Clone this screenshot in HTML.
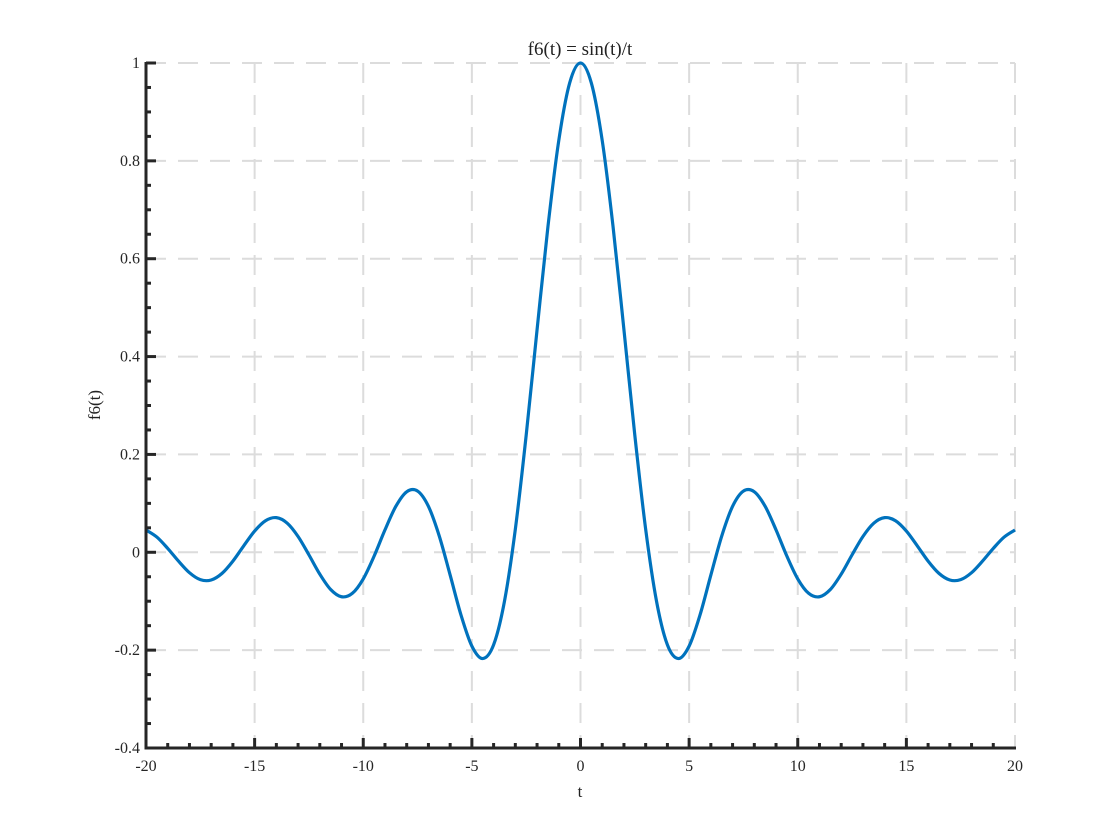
<!DOCTYPE html>
<html><head><meta charset="utf-8"><style>
html,body{margin:0;padding:0;background:#fff;}
svg{display:block;font-family:"Liberation Serif",serif;}
</style></head><body>
<svg id="chart" width="1120" height="840" viewBox="0 0 1120 840">
<g id="grid"></g>
<g id="series"></g>
<g id="axes"></g>
<text x="580" y="55" text-anchor="middle" font-size="19" fill="#222">f6(t) = sin(t)/t</text>
<text x="580" y="797" text-anchor="middle" font-size="17" fill="#222">t</text>
<text transform="translate(100,405) rotate(-90)" text-anchor="middle" font-size="17" fill="#222">f6(t)</text>
</svg>
<script>
const xTicks = [-20,-15,-10,-5,0,5,10,15,20];
const yTicks = [-0.4,-0.2,0,0.2,0.4,0.6,0.8,1];
const yTickLabels = ["-0.4","-0.2","0","0.2","0.4","0.6","0.8","1"];
const tValues = [];
for (let i = -40; i <= 40; i++) tValues.push(i/2);
const fHalf = [1,0.9589,0.8415,0.6650,0.4546,0.2394,0.0470,-0.1002,-0.1892,-0.2172,-0.1918,-0.1283,-0.0466,0.0331,0.0939,0.1251,0.1237,0.0939,0.0458,-0.0079,-0.0544,-0.0838,-0.0909,-0.0761,-0.0447,-0.0053,0.0323,0.0595,0.0708,0.0645,0.0434,0.0133,-0.0180,-0.0431,-0.0566,-0.0559,-0.0417,-0.0183,0.0079,0.0311,0.0456];
const fValues = fHalf.slice(1).reverse().concat(fHalf);

const X0=146, X1=1015, Y0=748, Y1=63;
const xmin=-20,xmax=20,ymin=-0.4,ymax=1;
const sx = v => X0 + (v-xmin)/(xmax-xmin)*(X1-X0);
const sy = v => Y0 - (v-ymin)/(ymax-ymin)*(Y0-Y1);
const NS="http://www.w3.org/2000/svg";
function mk(tag, parent, attrs){const e=document.createElementNS(NS,tag);for(const k in attrs)e.setAttribute(k,attrs[k]);parent.appendChild(e);return e;}
const grid=document.getElementById('grid'), axes=document.getElementById('axes'), series=document.getElementById('series');

xTicks.forEach(v=>{ if(v===xmin) return;
  const l=mk('line',grid,{x1:sx(v),x2:sx(v),y1:Y1,y2:Y0,stroke:'#dcdcdc','stroke-width':2,'stroke-dasharray':'20 12'});
  
  
});
yTicks.forEach(v=>{ if(v===ymin) return;
  const l=mk('line',grid,{x1:X0,x2:X1,y1:sy(v),y2:sy(v),stroke:'#dcdcdc','stroke-width':2,'stroke-dasharray':'20 12'});
  
  
});

const pts=tValues.map((t,i)=>[sx(t),sy(fValues[i])]);
let d=`M${pts[0][0]},${pts[0][1]}`;
for(let i=0;i<pts.length-1;i++){
  const p0=pts[Math.max(0,i-1)],p1=pts[i],p2=pts[i+1],p3=pts[Math.min(pts.length-1,i+2)];
  d+=` C${p1[0]+(p2[0]-p0[0])/6},${p1[1]+(p2[1]-p0[1])/6} ${p2[0]-(p3[0]-p1[0])/6},${p2[1]-(p3[1]-p1[1])/6} ${p2[0]},${p2[1]}`;
}
const path=mk('path',series,{d:d,fill:'none',stroke:'#0072BD','stroke-width':3.2,'stroke-linejoin':'round'});



const ax=mk('path',axes,{d:`M${X0},${Y1-1} L${X0},${Y0} L${X1+1},${Y0}`,fill:'none',stroke:'#262626','stroke-width':3});


for(let v=xmin+1; v<xmax; v++){
  const major = v%5===0;
  const t=mk('line',axes,{x1:sx(v),x2:sx(v),y1:Y0,y2:Y0-(major?10:5),stroke:'#262626','stroke-width':3});
  
  
}
for(let k=1;k<28;k++){
  const v=ymin+k*0.05; const major=k%4===0;
  const t=mk('line',axes,{x1:X0,x2:X0+(major?10:5),y1:sy(v),y2:sy(v),stroke:'#262626','stroke-width':3});
  
  
}
{const t=mk('line',axes,{x1:X0,x2:X0+10,y1:sy(1),y2:sy(1),stroke:'#262626','stroke-width':3});

}
xTicks.forEach(v=>{
  const t=mk('text',axes,{x:sx(v),y:Y0+23,'text-anchor':'middle','font-size':16,fill:'#262626'});
  t.textContent=String(v);
  
  
});
yTicks.forEach((v,i)=>{
  const t=mk('text',axes,{x:X0-6,y:sy(v)+5,'text-anchor':'end','font-size':16,fill:'#262626'});
  t.textContent=yTickLabels[i];
  
  
});
</script>
</body></html>
